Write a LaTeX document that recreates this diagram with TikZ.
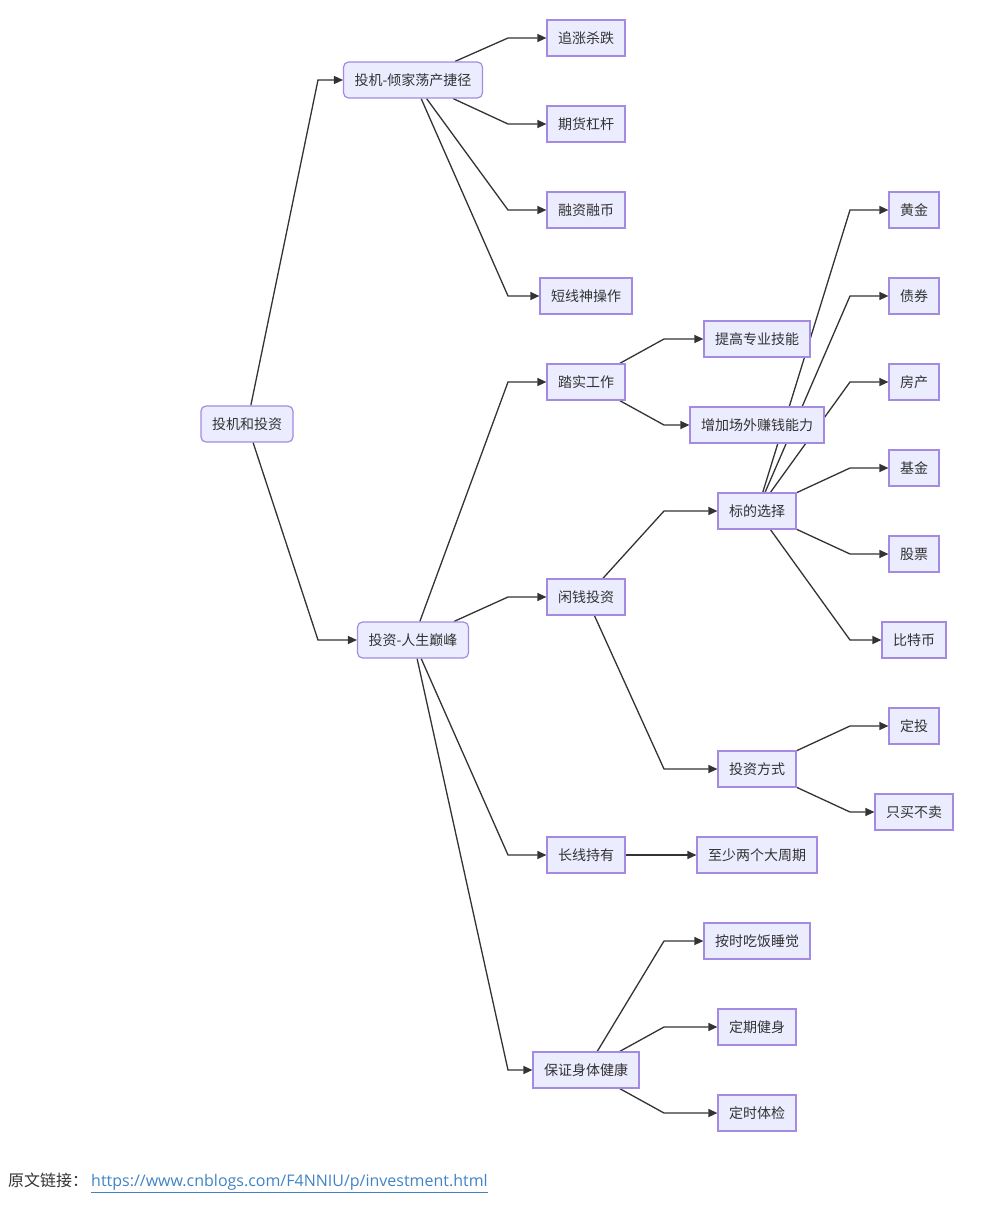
\documentclass[tikz,border=0pt]{standalone}
\usepackage{fontspec}
\setmainfont{Noto Sans CJK SC}
\newfontfamily\linkfont{Open Sans}
\definecolor{nodefill}{HTML}{ECECFF}
\definecolor{nodeline}{HTML}{A58AE3}
\definecolor{edgegray}{HTML}{333333}
\definecolor{linkblue}{HTML}{4183C4}
\usetikzlibrary{arrows.meta,backgrounds}

\begin{document}
\begin{tikzpicture}[
  x=1pt,y=-1pt,
  font=\fontsize{14}{16}\selectfont,
  box/.style={draw=nodeline,fill=nodefill,line width=1.2pt,text=edgegray,
    inner xsep=11pt,inner ysep=0pt,minimum height=36pt},
  rbox/.style={box,rounded corners=5pt},
  arrow/.style={-{Triangle[length=9pt,width=8pt]},line width=1.3pt,edgegray}
]
\useasboundingbox (0,0) rectangle (1006,1207);
% bend columns
\coordinate (c1) at (318,0);
\coordinate (c2) at (508,0);
\coordinate (c3) at (664,0);
\coordinate (c4) at (850,0);
% root and first level
\node[rbox] (root) at (247,424) {投机和投资};
\node[rbox] (spec) at (413,80) {投机-倾家荡产捷径};
\node[rbox] (inv) at (413,640) {投资-人生巅峰};
% speculation
\node[box] (zhuizhang) at (586,38) {追涨杀跌};
\node[box] (qihuo) at (586,124) {期货杠杆};
\node[box] (rongzi) at (586,210) {融资融币};
\node[box] (duanxian) at (586,296) {短线神操作};
% investment
\node[box] (tashi) at (586,382) {踏实工作};
\node[box] (xianqian) at (586,597) {闲钱投资};
\node[box] (changxian) at (586,855) {长线持有};
\node[box] (jiankang) at (586,1070) {保证身体健康};
% third level
\node[box] (jineng) at (757,339) {提高专业技能};
\node[box] (changwai) at (757,425) {增加场外赚钱能力};
\node[box] (biaodi) at (757,511) {标的选择};
\node[box] (fangshi) at (757,769) {投资方式};
\node[box] (zhouqi) at (757,855) {至少两个大周期};
\node[box] (chifan) at (757,941) {按时吃饭睡觉};
\node[box] (jianshen) at (757,1027) {定期健身};
\node[box] (tijian) at (757,1113) {定时体检};
% fourth level
\node[box] (huangjin) at (914,210) {黄金};
\node[box] (zhaiquan) at (914,296) {债券};
\node[box] (fangchan) at (914,382) {房产};
\node[box] (jijin) at (914,468) {基金};
\node[box] (gupiao) at (914,554) {股票};
\node[box] (bite) at (914,640) {比特币};
\node[box] (dingtou) at (914,726) {定投};
\node[box] (zhimai) at (914,812) {只买不卖};

\begin{scope}[on background layer]
\foreach \a/\b in {root/spec,root/inv}
  \draw[arrow] (\a) -- (c1 |- \b) -- (\b);
\foreach \a/\b in {spec/zhuizhang,spec/qihuo,spec/rongzi,spec/duanxian,
    inv/tashi,inv/xianqian,inv/changxian,inv/jiankang}
  \draw[arrow] (\a) -- (c2 |- \b) -- (\b);
\foreach \a/\b in {tashi/jineng,tashi/changwai,xianqian/biaodi,xianqian/fangshi,
    changxian/zhouqi,jiankang/chifan,jiankang/jianshen,jiankang/tijian}
  \draw[arrow] (\a) -- (c3 |- \b) -- (\b);
\foreach \a/\b in {biaodi/huangjin,biaodi/zhaiquan,biaodi/fangchan,biaodi/jijin,
    biaodi/gupiao,biaodi/bite,fangshi/dingtou,fangshi/zhimai}
  \draw[arrow] (\a) -- (c4 |- \b) -- (\b);
\end{scope}

% source link
\node[anchor=west,inner sep=0pt,text=edgegray,font=\fontsize{16}{18}\selectfont]
  (source) at (8,1183) {原文链接：\hspace{3pt}{\linkfont\textcolor{linkblue}{\underline{https://www.cnblogs.com/F4NNIU/p/investment.html}}}};
\end{tikzpicture}
\end{document}
